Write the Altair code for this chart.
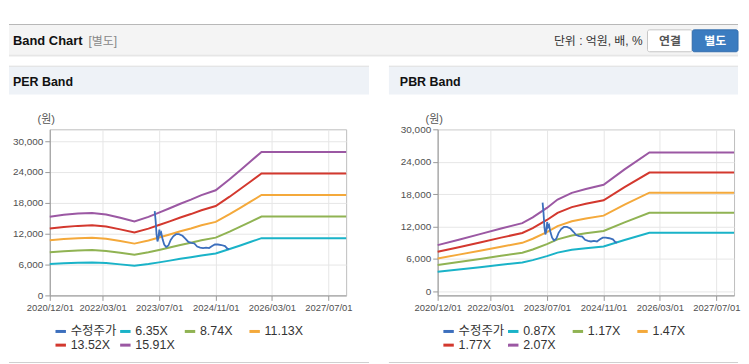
import altair as alt
import pandas as pd

FONT = "Liberation Sans, Arial, 'Noto Sans CJK KR', sans-serif"

# ---------------- data ----------------
series_order = ["수정주가", "6.35X", "8.74X", "11.13X", "13.52X", "15.91X"]
pbr_order = ["수정주가", "0.87X", "1.17X", "1.47X", "1.77X", "2.07X"]
series_colors = ["#3c6fbd", "#1ab3c8", "#90b353", "#f4a93b", "#d3382e", "#9b58a3"]

per_dates = ["2020-12-01", "2021-04-01", "2021-08-01", "2021-12-01", "2022-04-01",
             "2022-08-01", "2022-12-01", "2023-04-01", "2023-07-01", "2023-10-01",
             "2024-01-01", "2024-04-01", "2024-07-01", "2024-11-01", "2025-03-01",
             "2025-06-01", "2025-09-01", "2025-12-01", "2027-12-01"]
per_635 = [6110, 6255, 6350, 6400, 6287, 6033, 5747, 6096, 6426, 6763, 7112, 7430, 7779,
           8160, 9017, 9716, 10427, 11138, 11138]
per_874 = [8408, 8609, 8740, 8810, 8653, 8303, 7910, 8390, 8845, 9308, 9789, 10226, 10707,
           11231, 12411, 13372, 14351, 15330, 15330]
per_1113 = [10707, 10963, 11130, 11219, 11019, 10574, 10073, 10685, 11264, 11853, 12466,
            13022, 13634, 14302, 15805, 17029, 18275, 19522, 19522]
per_1352 = [13006, 13317, 13520, 13628, 13385, 12844, 12236, 12979, 13682, 14399, 15142,
            15818, 16562, 17373, 19198, 20686, 22200, 23714, 23714]
per_1591 = [15305, 15671, 15910, 16037, 15751, 15115, 14399, 15274, 16101, 16944, 17819,
            18615, 19490, 20444, 22592, 24342, 26124, 27906, 27906]

pbr_dates = ["2020-12-01", "2021-06-01", "2021-12-01", "2022-06-01", "2022-12-01",
             "2023-03-01", "2023-07-01", "2023-10-01", "2024-02-01", "2024-06-01",
             "2024-11-01", "2025-05-01", "2025-12-01", "2027-12-01"]
pbr_087 = [3584, 4002, 4437, 4872, 5298, 5742, 6482, 7134, 7656, 7961, 8282, 9483, 10805, 10805]
pbr_117 = [4820, 5382, 5967, 6552, 7125, 7722, 8717, 9594, 10296, 10706, 11138, 12753, 14531, 14531]
pbr_147 = [6056, 6762, 7497, 8232, 8952, 9702, 10952, 12054, 12936, 13451, 13994, 16023, 18257, 18257]
pbr_177 = [7292, 8142, 9027, 9912, 10779, 11682, 13187, 14514, 15576, 16196, 16850, 19293, 21983, 21983]
pbr_207 = [8528, 9522, 10557, 11592, 12606, 13662, 15422, 16974, 18216, 18941, 19706, 22563, 25709, 25709]

price_dates = ["2023-05-25", "2023-06-02", "2023-06-10", "2023-06-18", "2023-06-26",
               "2023-07-04", "2023-07-12", "2023-07-20", "2023-08-01", "2023-08-15",
               "2023-09-01", "2023-09-20", "2023-10-10", "2023-11-01", "2023-11-25",
               "2023-12-20", "2024-01-20", "2024-02-15", "2024-03-10", "2024-04-05",
               "2024-05-01", "2024-05-25", "2024-06-20", "2024-07-15", "2024-08-10",
               "2024-09-05", "2024-10-01", "2024-10-25", "2024-11-20", "2024-12-20",
               "2025-01-20", "2025-02-10", "2025-02-25"]
price_values = [16400, 14500, 11800, 10500, 11200, 12800, 11900, 12200, 10900, 9900,
                9400, 9700, 10800, 11500, 11900, 11900, 11600, 11000, 10400, 10200,
                10100, 9500, 9300, 9200, 9300, 9200, 9600, 9900, 9900, 9800,
                9600, 9100, 9000]

x_tick_dates = [(2020, 12, 1), (2022, 3, 1), (2023, 7, 1), (2024, 11, 1), (2026, 3, 1), (2027, 7, 1)]
y_ticks = [0, 6000, 12000, 18000, 24000, 30000]


def ts(d):
    return d + "T00:00:00"


def band_frame(dates, names, cols):
    rows = []
    for name, vals in zip(names, cols):
        for d, v in zip(dates, vals):
            rows.append({"date": ts(d), "value": v, "series": name})
    return pd.DataFrame(rows)


def price_frame():
    return pd.DataFrame({"date": [ts(d) for d in price_dates], "value": price_values,
                         "series": "수정주가"})


one = pd.DataFrame({"k": [0]})


def box(x1, x2, y1, y2, fill, stroke=None, radius=0):
    kw = dict(fill=fill)
    if stroke:
        kw.update(stroke=stroke, strokeWidth=1)
    if radius:
        kw["cornerRadius"] = radius
    return alt.Chart(one).mark_rect(**kw).encode(
        x=alt.value(x1), x2=alt.value(x2), y=alt.value(y1), y2=alt.value(y2))


def label(x, y, text, size=12, weight="normal", color="#333", align="left"):
    return alt.Chart(one).mark_text(
        text=text, fontSize=size, fontWeight=weight, color=color, align=align,
        baseline="middle", font=FONT).encode(x=alt.value(x), y=alt.value(y))


def panel(title, names, bands_df, ydom, left_x, right_x, title_x, header=False):
    xdom = [alt.DateTime(year=2020, month=12, date=1), alt.DateTime(year=2027, month=12, date=1)]
    xvals = [alt.DateTime(year=a, month=b, date=c) for a, b, c in x_tick_dates]
    xenc = alt.X("date:T", scale=alt.Scale(domain=xdom),
                 axis=alt.Axis(values=xvals, format="%Y/%m/%d", title=None,
                               labelFontSize=9.5, labelColor="#505050", labelFont=FONT,
                               labelFlush=False, labelOverlap=False,
                               tickSize=5, tickColor="#999", domainColor="#999",
                               gridColor="#e6e6e6", labelPadding=2))
    yenc = alt.Y("value:Q", scale=alt.Scale(domain=ydom, nice=False, zero=False),
                 axis=alt.Axis(values=y_ticks, format=",d", title="(원)", titleAngle=0,
                               titleX=-4, titleY=-10, titleAlign="center",
                               titleBaseline="middle", titleFontSize=11,
                               titleFontWeight="normal", titleColor="#555", titleFont=FONT,
                               labelFontSize=10, labelColor="#505050", labelFont=FONT,
                               labelFlush=False,
                               tickSize=5, tickColor="#999", domainColor="#999",
                               gridColor="#e6e6e6", labelPadding=2))
    leg = alt.Legend(orient="none", legendX=4, legendY=196, direction="horizontal",
                     columns=4, gridAlign="all", columnPadding=-4, rowPadding=0,
                     symbolType="stroke", symbolStrokeWidth=3, symbolSize=110,
                     labelFontSize=12.5, labelFont=FONT, labelColor="#333", labelOffset=3,
                     title=None, padding=0)
    cenc = alt.Color("series:N", scale=alt.Scale(domain=names, range=series_colors), legend=leg)

    bands = alt.Chart(bands_df).mark_line(strokeWidth=2).encode(
        x=xenc, y=yenc, color=cenc, detail="series:N")
    price = alt.Chart(price_frame()).mark_line(strokeWidth=1.8).encode(
        x=xenc, y=yenc, color=cenc)

    layers = [
        box(left_x, right_x, -64, -63, "#d6d6d6"),
        box(left_x, right_x, -63, -35, "#eef2f7"),
        label(title_x, -48, title, size=12.5, weight="bold", color="#111"),
        box(left_x, right_x, 234, 235, "#d0d0d0"),
    ]
    if header:
        layers += [
            box(-41, 692, -106, -105, "#b8b8b8"),
            box(-41, 692, -105, -75, "#f4f4f4"),
            box(-41, 692, -75, -74, "#dadada"),
            box(-41, 692, -74, -73, "#efefef"),
            label(-37, -89, "Band Chart", size=13, weight="bold", color="#111"),
            label(39, -89, "[별도]", size=12, color="#888"),
            label(596, -89, "단위 : 억원, 배, %", size=12, color="#333", align="right"),
            box(601, 646, -100, -78, "#ffffff", stroke="#c6c6c6", radius=2),
            label(623.5, -89, "연결", size=12, weight="bold", color="#555", align="center"),
            box(646, 692, -100, -78, "#3b7cc0", stroke="#356fae", radius=2),
            label(669, -89, "별도", size=12, weight="bold", color="#ffffff", align="center"),
        ]
    layers += [bands, price]
    return alt.layer(*layers).properties(width=298, height=167)


per_df = band_frame(per_dates, series_order[1:], [per_635, per_874, per_1113, per_1352, per_1591])
pbr_df = band_frame(pbr_dates, pbr_order[1:], [pbr_087, pbr_117, pbr_147, pbr_177, pbr_207])

left = panel("PER Band", series_order, per_df, [0, 32300], -41, 321, -37, header=True)
right = panel("PBR Band", pbr_order, pbr_df, [-800, 30000], -49, 302, -38)

chart = alt.hconcat(left, right, spacing=92, bounds="flush").resolve_scale(
    color="independent", x="independent", y="independent"
).properties(
    padding={"left": 0, "top": 14, "right": 0, "bottom": 0},
    background="white",
).configure(font=FONT).configure_view(stroke="#bdbdbd", fill="white")

chart.save("out.html", embed_options={"renderer": "svg", "actions": False})
